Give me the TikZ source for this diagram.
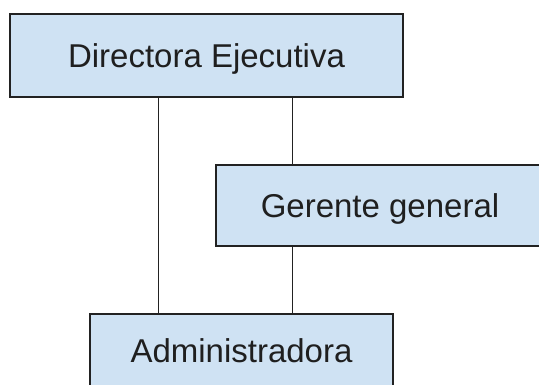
\documentclass[tikz,border=0pt]{standalone}
\usepackage{fontspec}
\setmainfont{Liberation Sans}
\definecolor{boxfill}{HTML}{CFE2F3}
\definecolor{boxline}{HTML}{222222}
\begin{document}
\begin{tikzpicture}[x=1pt,y=1pt,
  orgbox/.style={draw=boxline,fill=boxfill,line width=1.5pt,inner sep=0pt,
    text height=23.5pt,text depth=0pt,
    font=\fontsize{33}{38}\selectfont,text=black!88},
  link/.style={draw=boxline,line width=1.5pt}]
\useasboundingbox (0,0) rectangle (539,-385);
\clip (0,0) rectangle (539,-385);
\node[orgbox,minimum width=393,minimum height=83] (dir) at (206.5,-55.5) {Directora Ejecutiva};
\node[orgbox,minimum width=328,minimum height=81] (ger) at (380,-205.5) {Gerente general};
\node[orgbox,minimum width=303,minimum height=74] (adm) at (241.5,-351) {Administradora};
\coordinate (xa) at (158.5,0);
\coordinate (xb) at (292.5,0);
\draw[link] (dir.south -| xa) -- (adm.north -| xa);
\draw[link] (dir.south -| xb) -- (ger.north -| xb);
\draw[link] (ger.south -| xb) -- (adm.north -| xb);
\end{tikzpicture}
\end{document}
